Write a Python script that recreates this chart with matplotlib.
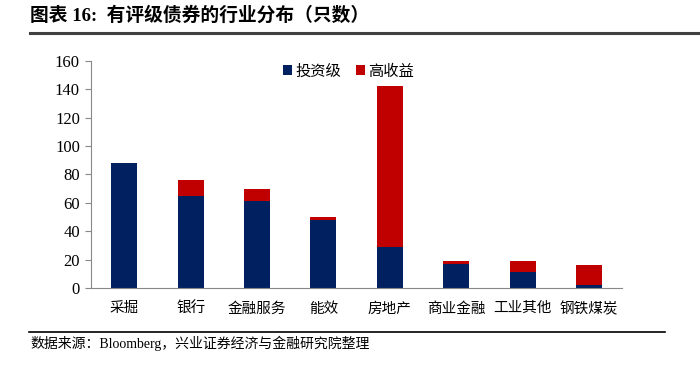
import matplotlib
matplotlib.use('Agg')
import matplotlib.pyplot as plt
import numpy as np
from matplotlib.lines import Line2D

plt.rcParams['font.family'] = ['Liberation Serif', 'Noto Sans CJK SC']

# Data
industries = ['采掘', '银行', '金融服务', '能效', '房地产', '商业金融', '工业其他', '钢铁煤炭']
investment_grade = [88, 65, 61, 48, 29, 17, 11, 2]
high_yield = [0, 11, 9, 2, 113, 2, 8, 14]

navy = '#002060'
red = '#C00000'

fig = plt.figure(figsize=(7, 3.65), dpi=100)
ax = fig.add_axes([0.13, 0.211, 0.759, 0.622])

x = np.arange(len(industries))
ax.bar(x, investment_grade, width=0.39, color=navy, label='投资级', zorder=2)
ax.bar(x, high_yield, width=0.39, bottom=investment_grade, color=red, label='高收益', zorder=2)

ax.set_xlim(-0.5, len(industries) - 0.5)
ax.set_ylim(0, 160)
ax.set_yticks(range(0, 161, 20))
ax.set_xticks(x)
ax.set_xticklabels(industries, fontsize=10.5)
ax.tick_params(axis='y', labelsize=12, length=4, color='#888888', direction='out', pad=4)
ax.tick_params(axis='x', length=0, pad=10)

for side in ['top', 'right']:
    ax.spines[side].set_visible(False)
ax.spines['left'].set_color('#888888')
ax.spines['bottom'].set_color('#888888')

ax.legend(loc='upper center', bbox_to_anchor=(0.485, 1.045), ncol=2, frameon=False,
          fontsize=11, handlelength=0.6, handleheight=0.6, handletextpad=0.2,
          columnspacing=1.0)

# Title and source
fig.text(0.043, 0.958, '图表 16:  有评级债券的行业分布（只数）', fontsize=13.5,
         fontweight='bold', va='center', ha='left')
fig.add_artist(Line2D([0.043, 1.0], [0.909, 0.909], color='#404040', linewidth=2.2))
fig.add_artist(Line2D([0.041, 0.95], [0.0904, 0.0904], color='black', linewidth=1.2))
fig.text(0.043, 0.06, '数据来源：Bloomberg，兴业证券经济与金融研究院整理', fontsize=10,
         va='center', ha='left')

fig.savefig('out.png', dpi=100)
